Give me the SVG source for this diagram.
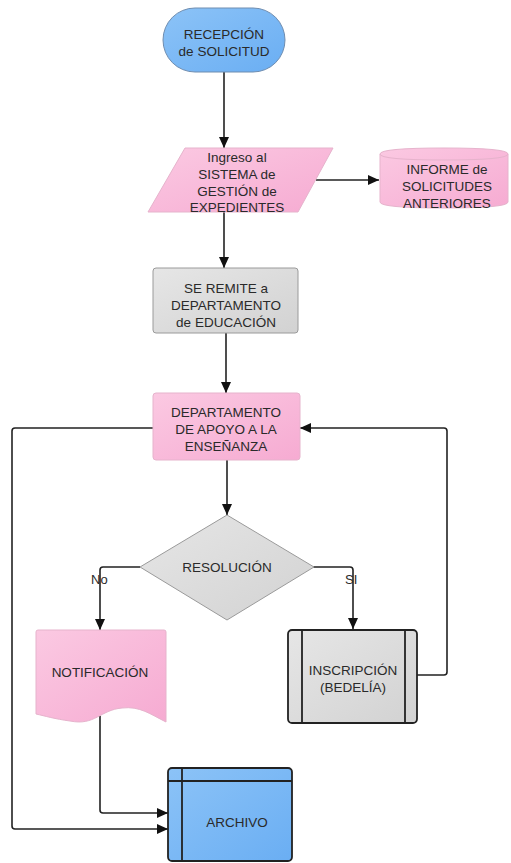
<svg xmlns="http://www.w3.org/2000/svg" width="511" height="863" viewBox="0 0 511 863">
<style>
text{font-family:"Liberation Sans",Arial,sans-serif;font-size:13.5px;fill:#2a2a2a;text-anchor:middle}
.pink{fill:url(#gPink);stroke:#e6b3cc;stroke-width:1}
.gray{fill:url(#gGray);stroke:#9a9a9a;stroke-width:1}
.blue{fill:url(#gBlue);stroke:#5a7fa8;stroke-width:1}
.dark{stroke:#222;stroke-width:1.8}
.conn{fill:none;stroke:#222;stroke-width:1.6;stroke-linejoin:round}
.arr{marker-end:url(#ah)}
.lbl{text-anchor:start;font-size:13px}
</style>
<defs>
<linearGradient id="gPink" x1="0" y1="0" x2="1" y2="1"><stop offset="0" stop-color="#fbc9e2"/><stop offset="1" stop-color="#f6abd2"/></linearGradient>
<linearGradient id="gGray" x1="0" y1="0" x2="1" y2="1"><stop offset="0" stop-color="#e6e6e6"/><stop offset="1" stop-color="#d2d2d2"/></linearGradient>
<linearGradient id="gBlue" x1="0" y1="0" x2="1" y2="1"><stop offset="0" stop-color="#8cc3f7"/><stop offset="1" stop-color="#6aaef3"/></linearGradient>
<marker id="ah" markerUnits="userSpaceOnUse" markerWidth="12" markerHeight="10" refX="11" refY="5" orient="auto"><path d="M0,0 L11,5 L0,10 Z" fill="#111"/></marker>
</defs>
<g id="connectors">
<path class="conn arr" d="M224,72 V148"/>
<path class="conn arr" d="M316,180 H379"/>
<path class="conn arr" d="M224,212 V268"/>
<path class="conn arr" d="M226,333 V393"/>
<path class="conn arr" d="M227,460 V515"/>
<path class="conn arr" d="M140,567 H103 Q100,567 100,570 V630"/>
<path class="conn arr" d="M313,567 H350 Q353,567 353,570 V629"/>
<path class="conn arr" d="M417,675 H444 Q447,675 447,672 V431 Q447,428 444,428 H300"/>
<path class="conn arr" d="M153,428 H15 Q12,428 12,431 V826 Q12,829 15,829 H168"/>
<path class="conn arr" d="M100,716 V810 Q100,813 103,813 H168"/>
</g>
<g id="recepcion">
<rect class="blue" x="163" y="8" width="122" height="64" rx="32" ry="32" style="stroke:#6f8db0"/>
<text x="224" y="39">RECEPCIÓN</text>
<text x="224" y="56">de SOLICITUD</text>
</g>
<g id="ingreso">
<polygon class="pink" points="185,148 333,148 298,212 148,212"/>
<text x="237" y="162">Ingreso al</text>
<text x="237" y="179">SISTEMA de</text>
<text x="237" y="196">GESTIÓN de</text>
<text x="237" y="212">EXPEDIENTES</text>
</g>
<g id="informe">
<path class="pink" d="M380,154 Q380,148 444,148 Q508,148 508,154 V202 Q508,208 444,208 Q380,208 380,202 Z"/>
<path d="M380,154 Q380,160 444,160 Q508,160 508,154" fill="none" stroke="#e6b3cc" stroke-width="1"/>
<text x="447" y="174">INFORME de</text>
<text x="447" y="191">SOLICITUDES</text>
<text x="447" y="208">ANTERIORES</text>
</g>
<g id="remite">
<rect class="gray" x="153" y="268" width="145" height="65" rx="3"/>
<text x="226" y="293">SE REMITE a</text>
<text x="226" y="310">DEPARTAMENTO</text>
<text x="226" y="327">de EDUCACIÓN</text>
</g>
<g id="departamento">
<rect class="pink" x="153" y="393" width="147" height="67" rx="3"/>
<text x="226" y="417">DEPARTAMENTO</text>
<text x="226" y="434">DE APOYO A LA</text>
<text x="226" y="451">ENSEÑANZA</text>
</g>
<g id="resolucion">
<polygon class="gray" points="227,515 314,567 227,620 140,567"/>
<text x="227" y="572">RESOLUCIÓN</text>
</g>
<text class="lbl" x="91" y="584">No</text>
<text class="lbl" x="345" y="584">SI</text>
<g id="notificacion">
<path class="pink" d="M36,632 Q36,630 38,630 H164 Q166,630 166,632 V722 C150,714 140,706 122,708 C100,710 95,726 70,721 C55,719 45,716 36,714 Z"/>
<text x="100" y="677">NOTIFICACIÓN</text>
</g>
<g id="inscripcion">
<rect class="gray dark" x="288" y="630" width="129" height="93" rx="4"/>
<line class="dark" x1="302" y1="630" x2="302" y2="723"/>
<line class="dark" x1="405" y1="630" x2="405" y2="723"/>
<text x="353" y="675">INSCRIPCIÓN</text>
<text x="353" y="692">(BEDELÍA)</text>
</g>
<g id="archivo">
<rect class="blue dark" x="168" y="768" width="124" height="93" rx="4"/>
<line class="dark" x1="168" y1="781" x2="292" y2="781"/>
<line class="dark" x1="182" y1="768" x2="182" y2="861"/>
<text x="237" y="827">ARCHIVO</text>
</g>
</svg>
